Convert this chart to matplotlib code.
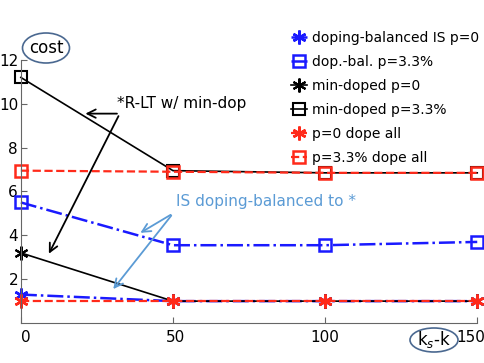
import numpy as np
import matplotlib.pyplot as plt
import matplotlib.transforms as mtransforms
from matplotlib.patches import Ellipse

# datos
ks_k = [0, 50, 100, 150]
bal_p0 = [1.3, 1.0, 1.0, 1.0]
bal_p33 = [5.5, 3.55, 3.55, 3.7]
min_p0 = [3.2, 1.0, 1.0, 1.0]
min_p33 = [11.2, 6.95, 6.85, 6.85]
all_p0 = [1.0, 1.0, 1.0, 1.0]
all_p33 = [6.95, 6.9, 6.85, 6.85]

labels = ['doping-balanced IS p=0', 'dop.-bal. p=3.3%', 'min-doped p=0',
          'min-doped p=3.3%', 'p=0 dope all', 'p=3.3% dope all']

blue = '#1a1aff'
red = '#ff2a1a'
light = '#5b9bd5'
ring = '#4a6890'
star = (6, 2, 0)

fig = plt.figure(figsize=(4.85, 3.63), dpi=100)
ax = fig.add_axes([0.043, 0.11, 0.941, 0.725])

kw = dict(clip_on=False)
ax.plot(ks_k, bal_p0, color=blue, ls='-.', lw=1.8, marker=star, ms=10, mew=1.8, label=labels[0], **kw)
ax.plot(ks_k, bal_p33, color=blue, ls='-.', lw=1.8, marker='s', ms=9, mew=1.8, mfc='none', label=labels[1], **kw)
ax.plot(ks_k, min_p0, color='black', ls='-', lw=1.2, marker=star, ms=10, mew=1.5, label=labels[2], **kw)
ax.plot(ks_k, min_p33, color='black', ls='-', lw=1.2, marker='s', ms=9, mew=1.5, mfc='none', label=labels[3], **kw)
ax.plot(ks_k, all_p0, color=red, ls='--', lw=1.6, marker=star, ms=10, mew=1.8, label=labels[4], **kw)
ax.plot(ks_k, all_p33, color=red, ls='--', lw=1.6, marker='s', ms=9, mew=1.8, mfc='none', label=labels[5], **kw)

ax.set_xlim(0, 150)
ax.set_ylim(0, 12)
ax.set_xticks([0, 50, 100, 150])
ax.set_yticks([2, 4, 6, 8, 10, 12])
ax.tick_params(direction='in', labelsize=11, length=4, color='#666666')
ax.tick_params(axis='y', pad=2)
ax.tick_params(axis='x', pad=5)
ax.spines['top'].set_visible(False)
ax.spines['right'].set_visible(False)
ax.spines['left'].set_color('#666666')
ax.spines['bottom'].set_color('#666666')

# mover un poco las etiquetas del eje x
shifts = [5, 3, 0, -6]
for lab, dx in zip(ax.get_xticklabels(), shifts):
    lab.set_transform(lab.get_transform() + mtransforms.ScaledTranslation(dx / 100, 0, fig.dpi_scale_trans))

# Leyenda
ax.legend(loc='upper left', bbox_to_anchor=(0.585, 0.935), bbox_transform=fig.transFigure,
          frameon=False, fontsize=10, handlelength=1.2, handletextpad=0.3,
          labelspacing=0.72, borderpad=0)

# Anotaciones
ax.text(31.5, 10.0, '*R-LT w/ min-dop', fontsize=11, ha='left', va='center')
ax.annotate('', xy=(20.3, 9.55), xytext=(32.5, 9.55),
            arrowprops=dict(arrowstyle='->,head_length=0.6,head_width=0.3', color='black', lw=1.3))
ax.annotate('', xy=(8.8, 3.05), xytext=(32.5, 9.55),
            arrowprops=dict(arrowstyle='->,head_length=0.6,head_width=0.3', color='black', lw=1.3))

ax.text(51, 5.55, 'IS doping-balanced to *', fontsize=11, color=light, ha='left', va='center')
ax.annotate('', xy=(38.5, 4.05), xytext=(50, 5.0),
            arrowprops=dict(arrowstyle='->,head_length=0.6,head_width=0.3', color=light, lw=1.3))
ax.annotate('', xy=(29.8, 1.45), xytext=(50, 5.0),
            arrowprops=dict(arrowstyle='->,head_length=0.6,head_width=0.3', color=light, lw=1.3))

# etiquetas con elipse
fig.text(46 / 485, 1 - 48 / 363, 'cost', fontsize=12, ha='center', va='center')
fig.patches.append(Ellipse((46 / 485, 1 - 48 / 363), 47 / 485, 30 / 363,
                           transform=fig.transFigure, fill=False, ec=ring, lw=1.2))
fig.text(434 / 485, 1 - 340 / 363, r'k$_s$-k', fontsize=12, ha='center', va='center')
fig.patches.append(Ellipse((434 / 485, 1 - 340 / 363), 48 / 485, 24 / 363,
                           transform=fig.transFigure, fill=False, ec=ring, lw=1.2))

fig.savefig('out.png', dpi=100)
